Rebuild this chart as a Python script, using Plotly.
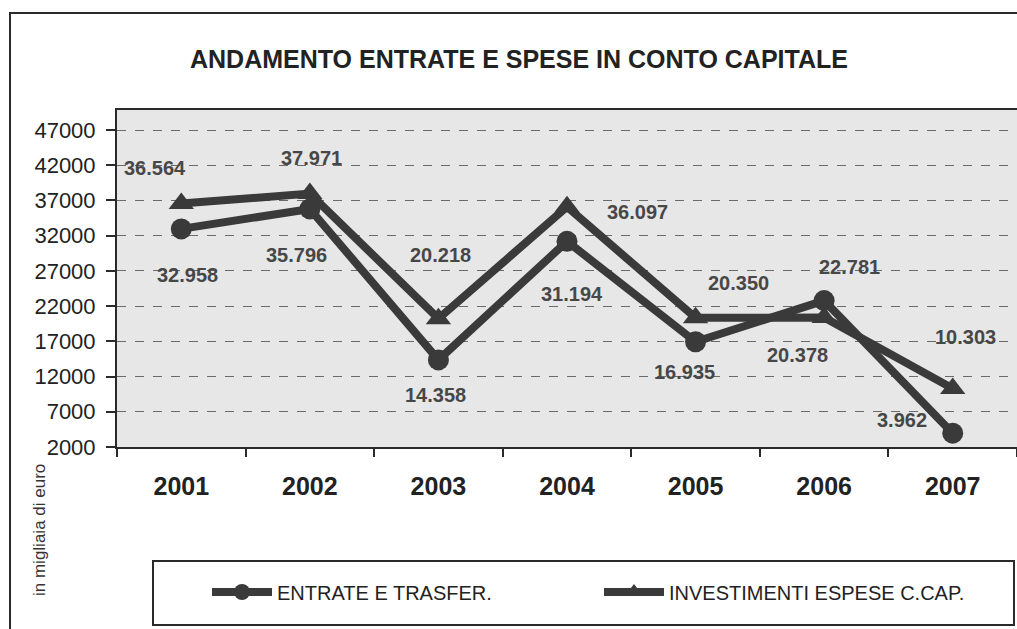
import plotly.graph_objects as go

# --- data -------------------------------------------------------------
years = ["2001", "2002", "2003", "2004", "2005", "2006", "2007"]
entrate = [32958, 35796, 14358, 31194, 16935, 22781, 3962]
investimenti = [36564, 37971, 20218, 36097, 20350, 20378, 10303]
y_ticks = [2000, 7000, 12000, 17000, 22000, 27000, 32000, 37000, 42000, 47000]

name_entrate = "ENTRATE E TRASFER."
name_invest = "INVESTIMENTI ESPESE C.CAP."
title_text = "ANDAMENTO ENTRATE E SPESE IN CONTO CAPITALE"
y_title = "in migliaia di euro"

# pixel offsets of each value label from its point (dx right, dy down)
off_entrate = [(6, 46), (-13, 46), (-3, 35), (5, 53), (-11, 30), (25, -34), (-51, -13)]
off_invest = [(-26, -36), (2, -36), (2, -64), (70, 5), (43, -35), (-27, 37), (13, -52)]

# --- geometry ---------------------------------------------------------
W, H = 1017, 629
ML, MR, MT, MB = 117, 0, 110, 182
PW, PH = W - ML - MR, H - MT - MB


def xp(px):
    return (px - ML) / PW


def yp(py):
    return 1 - (py - MT) / PH


FONT = "Liberation Sans, Arial, sans-serif"
LINE_C = "#3a3a3a"
TEXT_C = "#222222"


def it_fmt(v):
    return f"{v:,}".replace(",", ".")


fig = go.Figure()

fig.add_trace(go.Scatter(
    x=years, y=entrate, name=name_entrate, mode="lines+markers",
    line=dict(color=LINE_C, width=8),
    marker=dict(symbol="circle", size=21, color=LINE_C),
))
fig.add_trace(go.Scatter(
    x=years, y=investimenti, name=name_invest, mode="lines+markers",
    line=dict(color=LINE_C, width=8),
    marker=dict(symbol="triangle-up", size=22, color=LINE_C),
))

annotations = []
for series, offs in ((entrate, off_entrate), (investimenti, off_invest)):
    for i, (v, (dx, dy)) in enumerate(zip(series, offs)):
        annotations.append(dict(
            x=i, y=v, xref="x", yref="y", text=it_fmt(v), showarrow=False,
            xanchor="center", yanchor="middle",
            xshift=dx, yshift=-dy,
            font=dict(family=FONT, size=20, color="#474747", weight="bold"),
        ))

# chart title
annotations.append(dict(
    x=xp(519), y=yp(59), xref="paper", yref="paper", text=title_text,
    showarrow=False, xanchor="center", yanchor="middle",
    font=dict(family=FONT, size=25, color=TEXT_C, weight="bold"),
))
# unit label
annotations.append(dict(
    x=xp(39), y=yp(530), xref="paper", yref="paper", text=y_title,
    showarrow=False, textangle=-90, xanchor="center", yanchor="middle",
    font=dict(family=FONT, size=17, color="#333333"),
))

shapes = [
    # outer frame
    dict(type="rect", xref="paper", yref="paper",
         x0=xp(10), x1=xp(1030), y0=yp(13), y1=yp(640),
         line=dict(color="#2a2a2a", width=2), layer="below"),
    # legend box
    dict(type="rect", xref="paper", yref="paper",
         x0=xp(153), x1=xp(1014), y0=yp(561), y1=yp(625),
         line=dict(color="#2a2a2a", width=2), layer="below"),
]

fig.update_layout(
    width=W, height=H, autosize=False,
    margin=dict(l=ML, r=MR, t=MT, b=MB, pad=0),
    paper_bgcolor="white", plot_bgcolor="#e7e7e7",
    separators=",.",
    showlegend=True,
    legend=dict(
        orientation="h", x=xp(207), y=yp(592), xanchor="left", yanchor="middle",
        bgcolor="rgba(0,0,0,0)", borderwidth=0,
        font=dict(family=FONT, size=20, color=TEXT_C),
        entrywidth=317, itemwidth=60,
    ),
    annotations=annotations,
    shapes=shapes,
)

fig.update_xaxes(
    type="category", range=[-0.5, 6.5],
    showline=True, linecolor="#2a2a2a", linewidth=2, mirror=True,
    ticks="outside", ticklen=8, tickwidth=2, tickcolor="#2a2a2a",
    tickson="boundaries", ticklabelstandoff=16,
    tickfont=dict(family=FONT, size=25, color=TEXT_C, weight="bold"),
    showgrid=False, zeroline=False,
)
fig.update_yaxes(
    range=[2000, 49840], tickvals=y_ticks, tickformat="d",
    showline=True, linecolor="#2a2a2a", linewidth=2,
    ticks="outside", ticklen=9, tickwidth=2, tickcolor="#2a2a2a",
    ticklabelstandoff=6,
    tickfont=dict(family=FONT, size=22, color=TEXT_C),
    showgrid=True, gridcolor="#6a6a6a", gridwidth=1, griddash="dash",
    zeroline=False,
)

fig.write_html("out.html")
